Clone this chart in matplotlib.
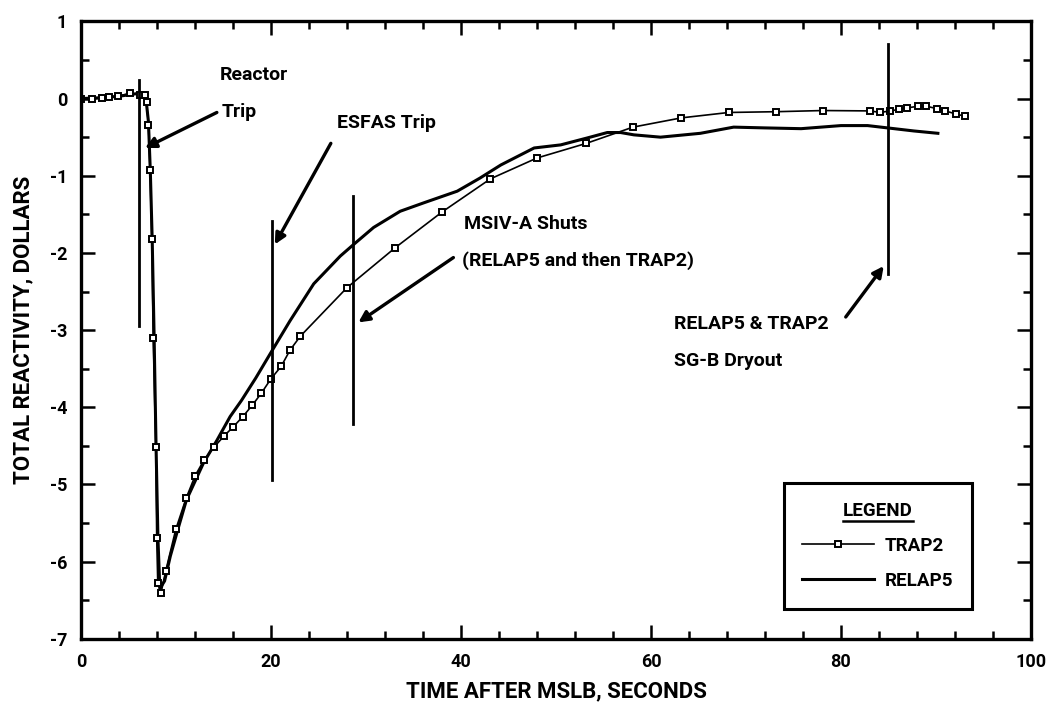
import matplotlib
matplotlib.use('Agg')
import matplotlib.pyplot as plt
from matplotlib.lines import Line2D

plt.rcParams['font.family'] = ['Roboto', 'DejaVu Sans']
plt.rcParams['font.weight'] = 'bold'
plt.rcParams['axes.unicode_minus'] = False

# TRAP2 (square markers)
trap2_t = [0, 1.2, 2.2, 3.0, 3.9, 5.2, 6.2, 6.7, 6.9, 7.1, 7.27, 7.45, 7.6, 7.87, 7.97,
           8.08, 8.43, 8.92, 9.98, 11.06, 12.0, 12.96, 14.05, 15.07, 16.05, 17.04,
           18.05, 18.97, 20.0, 21.07, 22.0, 23.08, 28.0, 33.1, 38.0, 43.1, 48.0,
           53.2, 58.1, 63.2, 68.2, 73.2, 78.1, 83.1, 84.1, 85.2, 86.1, 87.0, 88.1,
           89.0, 90.1, 91.0, 92.1, 93.1]
trap2_r = [0.0, -0.01, 0.01, 0.02, 0.03, 0.07, 0.05, 0.05, -0.05, -0.34, -0.93, -1.82, -3.1,
           -4.51, -5.69, -6.27, -6.40, -6.12, -5.58, -5.18, -4.89, -4.68, -4.51,
           -4.37, -4.25, -4.12, -3.97, -3.82, -3.63, -3.47, -3.26, -3.08, -2.45,
           -1.93, -1.47, -1.04, -0.77, -0.58, -0.37, -0.25, -0.18, -0.17, -0.155,
           -0.16, -0.18, -0.16, -0.14, -0.12, -0.10, -0.10, -0.13, -0.16, -0.20,
           -0.23]

# RELAP5 (solid line)
relap5_t = [0, 2.0, 4.0, 6.2, 6.8, 7.1, 7.3, 7.5, 7.7, 7.9, 8.1, 8.3, 8.8, 9.4,
            10.2, 11.1, 12.9, 14.3, 15.7, 16.9, 18.4, 19.9, 22.0, 24.5, 27.3,
            28.7, 30.8, 33.6, 36.1, 39.6, 42.0, 44.2, 47.7, 50.5, 53.3, 55.4,
            56.8, 58.2, 61.0, 65.2, 68.7, 72.0, 75.8, 80.0, 82.8, 84.9, 87.7, 90.2]
relap5_r = [0.0, 0.01, 0.03, 0.07, 0.04, -0.30, -0.95, -1.85, -3.1, -4.5, -5.7,
            -6.35, -6.25, -5.93, -5.58, -5.2, -4.72, -4.43, -4.12, -3.91, -3.62,
            -3.31, -2.88, -2.40, -2.04, -1.89, -1.67, -1.46, -1.35, -1.20, -1.03,
            -0.86, -0.64, -0.60, -0.51, -0.44, -0.44, -0.47, -0.50, -0.45, -0.37,
            -0.38, -0.39, -0.35, -0.35, -0.38, -0.42, -0.45]

# event marker lines: x, ymin, ymax
event_x = [6.1, 20.1, 28.6, 85.0]
event_lo = [-2.95, -4.94, -4.21, -2.27]
event_hi = [0.24, -1.59, -1.26, 0.71]

# annotation texts and arrows
notes = [
    ('Reactor', (14.6, 0.31)),
    ('Trip', (14.8, -0.17)),
    ('ESFAS Trip', (26.9, -0.32)),
    ('MSIV-A Shuts', (40.3, -1.63)),
    ('(RELAP5 and then TRAP2)', (40.1, -2.10)),
    ('RELAP5 & TRAP2', (62.4, -2.92)),
    ('SG-B Dryout', (62.4, -3.40)),
]
arrow_tail = [(14.3, -0.18), (26.3, -0.58), (39.2, -2.06), (80.5, -2.83)]
arrow_head = [(6.74, -0.64), (20.4, -1.89), (29.2, -2.90), (84.5, -2.17)]

fig = plt.figure(figsize=(10.56, 7.13), dpi=100)
ax = fig.add_axes([0.0767, 0.104, 0.8996, 0.866])

ax.plot(relap5_t, relap5_r, color='black', lw=2.2, label='RELAP5')
ax.plot(trap2_t, trap2_r, color='black', lw=1.2, marker='s', ms=4.5,
        mfc='white', mec='black', mew=1.4, label='TRAP2')

for x, lo, hi in zip(event_x, event_lo, event_hi):
    ax.plot([x, x], [lo, hi], color='black', lw=2.0)

for txt, pos in notes:
    ax.text(pos[0], pos[1], txt, fontsize=14, fontweight='bold', ha='left', va='center')

for tail, head in zip(arrow_tail, arrow_head):
    ax.annotate('', xy=head, xytext=tail,
                arrowprops=dict(arrowstyle='-|>', color='black', lw=2.4,
                                mutation_scale=16, shrinkA=0, shrinkB=0))

ax.set_xlim(0, 100)
ax.set_ylim(-7, 1)
ax.set_xticks(range(0, 101, 20))
ax.set_xticks(range(0, 101, 4), minor=True)
ax.set_yticks(range(-7, 2))
ax.set_yticks([v / 2 for v in range(-14, 3)], minor=True)
ax.tick_params(which='both', direction='in', top=True, right=True, width=1.8,
               labelsize=13, pad=10)
ax.tick_params(which='major', length=10)
ax.tick_params(which='minor', length=6)
for s in ax.spines.values():
    s.set_linewidth(2.4)

ax.set_xlabel('TIME AFTER MSLB, SECONDS', fontsize=16, fontweight='bold', labelpad=7)
ax.set_ylabel('TOTAL REACTIVITY, DOLLARS', fontsize=16, fontweight='bold', labelpad=11)

h_trap = Line2D([0, 1, 2], [0, 0, 0], color='black', lw=1.2, marker='s', ms=4,
                mfc='white', mec='black', mew=1.4, markevery=[1])
h_relap = Line2D([], [], color='black', lw=2.2)
leg = ax.legend([h_trap, h_relap], ['TRAP2', 'RELAP5'], title='LEGEND',
                loc='lower right', bbox_to_anchor=(0.942, 0.043), frameon=True,
                fancybox=False, edgecolor='black', framealpha=1, fontsize=13.5,
                title_fontsize=13.5, handlelength=3.8, borderpad=1.0,
                labelspacing=0.9, handletextpad=0.6, borderaxespad=0.2)
leg.get_frame().set_linewidth(2.2)
leg.get_title().set_fontweight('bold')

# underline the legend title
fig.canvas.draw()
bb = leg.get_title().get_window_extent().transformed(fig.transFigure.inverted())
fig.add_artist(Line2D([bb.x0, bb.x1], [bb.y0 - 0.002, bb.y0 - 0.002],
                     transform=fig.transFigure, color='black', lw=1.8))

fig.savefig('out.png', dpi=100)
